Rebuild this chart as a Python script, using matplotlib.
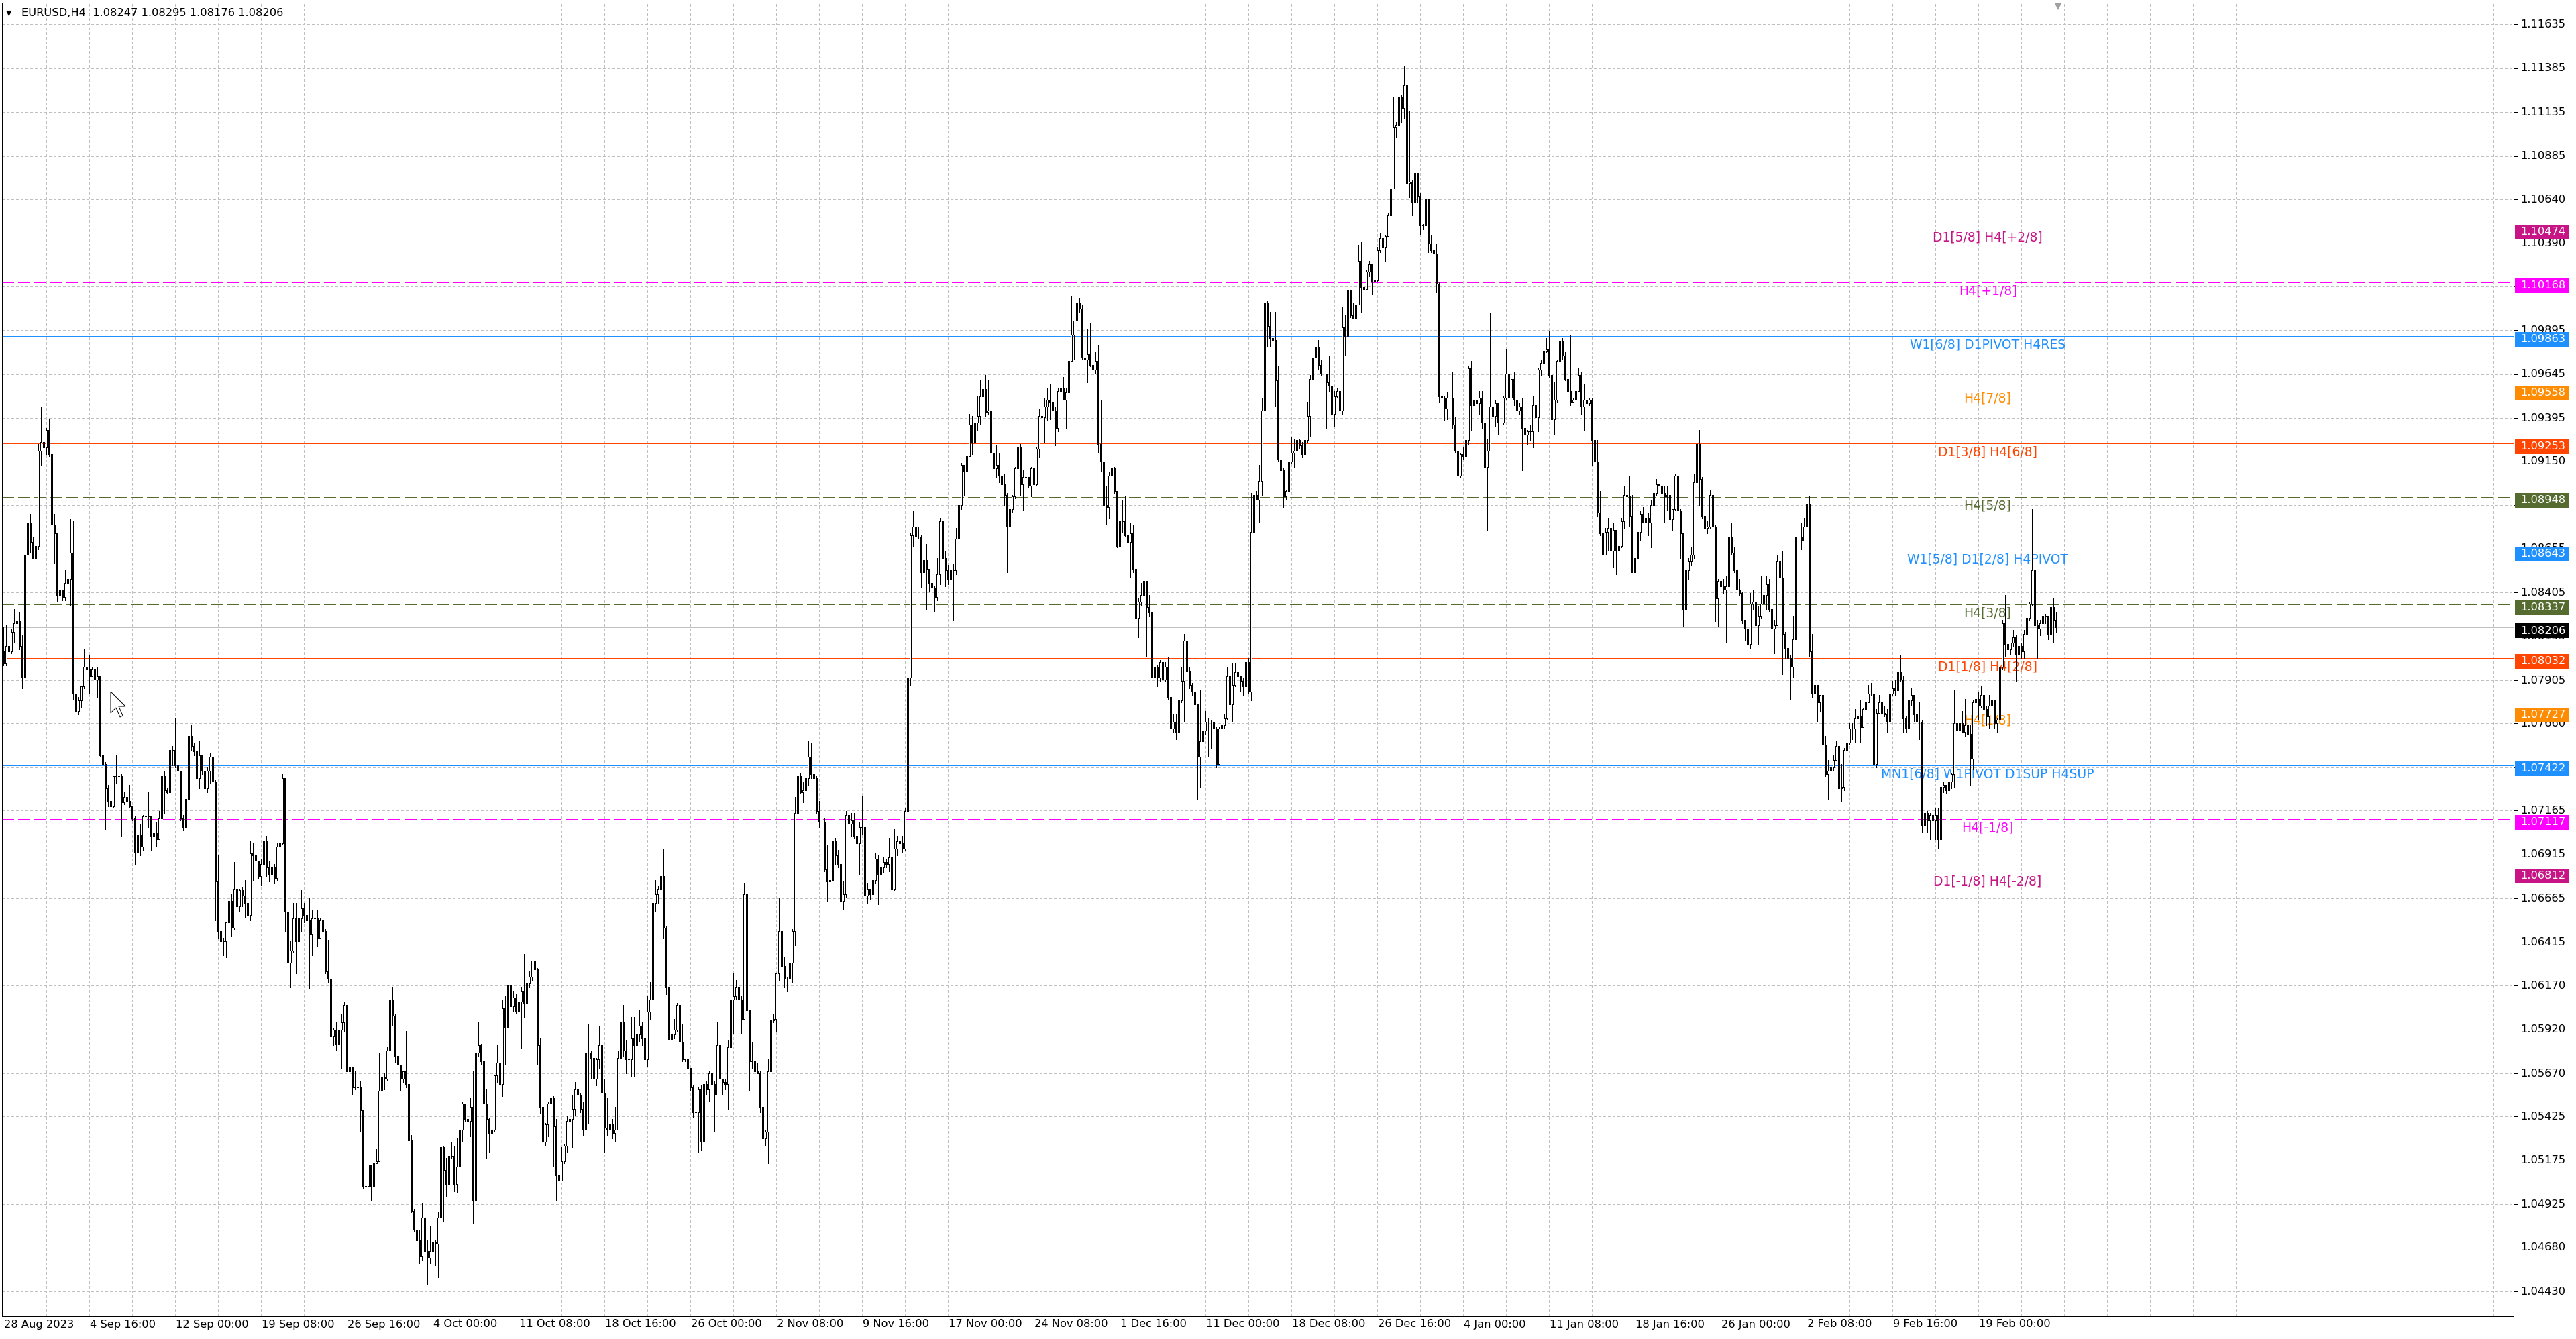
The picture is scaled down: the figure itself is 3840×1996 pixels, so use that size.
import matplotlib
matplotlib.use("Agg")
import matplotlib.pyplot as plt
import matplotlib.transforms as mtransforms
from matplotlib.collections import LineCollection
from matplotlib.patches import Rectangle, Polygon

plt.rcParams['font.family'] = ['DejaVu Sans']
plt.rcParams['lines.scale_dashes'] = False

# ---------------- data (prices in pips, 1 pip = 0.0001) ----------------
FIRST_OPEN = 10807
closes = [
10800,10810,10807,10818,10823,10824,10810,10792,10862,10880,
10869,10860,10867,10921,10926,10923,10933,10919,10879,10874,
10839,10842,10838,10846,10848,10863,10783,10773,10779,10787,
10798,10797,10793,10797,10791,10793,10748,10743,10729,10722,
10719,10736,10736,10736,10721,10724,10722,10719,10712,10693,
10703,10696,10713,10713,10713,10702,10704,10700,10712,10736,
10728,10727,10751,10751,10742,10739,10712,10707,10723,10759,
10753,10750,10735,10748,10739,10729,10739,10747,10733,10676,
10648,10642,10642,10653,10665,10650,10672,10662,10671,10668,
10664,10657,10692,10691,10688,10679,10686,10699,10684,10680,
10684,10678,10696,10698,10735,10659,10630,10637,10655,10642,
10655,10661,10657,10654,10646,10655,10655,10644,10654,10648,
10625,10621,10588,10592,10584,10592,10596,10606,10568,10571,
10559,10559,10559,10546,10503,10503,10515,10503,10516,10517,
10557,10565,10564,10580,10609,10600,10577,10572,10564,10568,
10561,10529,10489,10478,10472,10463,10485,10466,10462,10466,
10471,10470,10485,10525,10512,10504,10520,10520,10504,10514,
10535,10550,10541,10540,10548,10495,10579,10583,10574,10550,
10541,10533,10535,10566,10573,10561,10604,10593,10617,10605,
10610,10602,10608,10614,10607,10618,10622,10631,10626,10583,
10548,10528,10538,10550,10553,10537,10509,10506,10517,10526,
10540,10541,10547,10558,10555,10547,10535,10579,10579,10576,
10564,10575,10583,10556,10536,10535,10538,10533,10535,10576,
10596,10580,10575,10575,10587,10583,10589,10594,10587,10575,
10602,10609,10664,10669,10672,10679,10650,10616,10586,10589,
10592,10606,10585,10575,10575,10570,10559,10545,10545,10558,
10528,10561,10558,10567,10561,10555,10583,10564,10562,10561,
10582,10609,10611,10616,10609,10598,10669,10603,10574,10574,
10568,10567,10548,10530,10534,10568,10597,10598,10624,10648,
10628,10621,10621,10630,10648,10715,10736,10727,10728,10735,
10747,10737,10735,10716,10710,10710,10683,10676,10677,10699,
10691,10686,10665,10669,10714,10709,10711,10702,10698,10707,
10707,10668,10672,10669,10677,10689,10680,10684,10687,10686,
10690,10672,10695,10699,10698,10695,10716,10792,10873,10878,
10872,10872,10852,10859,10854,10846,10843,10838,10851,10881,
10860,10853,10848,10853,10853,10871,10890,10913,10909,10918,
10936,10926,10937,10941,10952,10956,10943,10944,10920,10911,
10913,10907,10902,10896,10878,10888,10895,10911,10923,10902,
10906,10906,10901,10911,10902,10922,10941,10940,10946,10950,
10949,10944,10934,10955,10957,10950,10954,10972,10987,10995,
11005,11002,10974,10973,10976,10970,10967,10972,10925,10915,
10890,10889,10907,10911,10898,10867,10881,10881,10873,10869,
10874,10854,10826,10835,10839,10847,10832,10829,10792,10798,
10792,10801,10791,10798,10781,10763,10767,10761,10779,10790,
10813,10796,10788,10784,10777,10747,10756,10762,10767,10767,
10767,10763,10743,10763,10765,10769,10793,10777,10788,10795,
10793,10790,10787,10801,10784,10875,10896,10893,10904,10944,
11005,10992,10985,10984,10961,10916,10910,10895,10898,10915,
10920,10921,10927,10924,10919,10927,10941,10962,10974,10980,
10970,10965,10965,10960,10958,10942,10952,10955,10944,10991,
10986,11012,10998,10996,11004,11029,11014,11013,11023,11027,
11017,11018,11035,11042,11037,11043,11055,11070,11105,11106,
11122,11116,11129,11073,11074,11062,11079,11066,11049,11049,
11064,11039,11035,11033,11016,10952,10951,10945,10951,10951,
10936,10921,10907,10919,10918,10927,10968,10947,10950,10948,
10951,10937,10912,10921,10946,10941,10948,10937,10937,10951,
10965,10951,10962,10950,10944,10946,10934,10930,10932,10932,
10947,10940,10967,10971,10978,10979,10964,10939,10950,10972,
10983,10975,10962,10955,10949,10950,10955,10964,10946,10950,
10948,10950,10927,10915,10886,10874,10862,10875,10877,10864,
10876,10864,10867,10881,10896,10895,10884,10852,10860,10875,
10885,10880,10883,10880,10890,10897,10902,10901,10897,10895,
10896,10882,10888,10907,10887,10874,10831,10853,10858,10862,
10903,10925,10905,10884,10877,10878,10896,10878,10837,10847,
10844,10842,10844,10872,10863,10853,10842,10840,10825,10820,
10811,10834,10835,10822,10827,10834,10839,10845,10831,10820,
10822,10858,10849,10817,10809,10803,10798,10814,10872,10872,
10870,10878,10891,10807,10783,10788,10778,10782,10754,10737,
10739,10741,10745,10753,10729,10730,10751,10755,10763,10763,
10769,10770,10764,10774,10778,10783,10783,10743,10772,10778,
10772,10771,10767,10783,10786,10785,10795,10791,10769,10763,
10779,10782,10771,10767,10767,10708,10715,10711,10714,10711,
10714,10700,10730,10731,10728,10733,10737,10766,10762,10766,
10761,10765,10760,10746,10778,10780,10776,10782,10774,10770,
10776,10779,10766,10768,10798,10823,10811,10808,10812,10815,
10805,10810,10807,10817,10826,10834,10853,10822,10820,10823,
10827,10827,10817,10832,10825,10820.6]

highs = [
10821,10822,10814,10820,10831,10838,10829,10816,10863,10891,
10885,10872,10868,10925,10946,10932,10934,10939,10925,10885,
10874,10843,10842,10853,10858,10882,10881,10789,10781,10787,
10808,10809,10805,10798,10796,10798,10793,10757,10744,10731,
10725,10736,10748,10748,10737,10727,10727,10731,10719,10713,
10710,10709,10714,10722,10727,10713,10744,10710,10716,10737,
10739,10729,10759,10753,10769,10743,10739,10714,10724,10765,
10765,10755,10753,10756,10748,10740,10741,10749,10752,10734,
10691,10651,10644,10653,10668,10669,10687,10676,10672,10673,
10677,10674,10699,10698,10697,10688,10689,10718,10702,10688,
10685,10686,10698,10705,10737,10735,10664,10642,10664,10664,
10673,10671,10664,10659,10667,10660,10671,10660,10655,10655,
10649,10643,10622,10593,10596,10599,10601,10608,10606,10574,
10570,10568,10573,10563,10546,10518,10515,10515,10524,10524,
10579,10566,10567,10582,10616,10616,10601,10579,10570,10568,
10591,10563,10532,10490,10482,10478,10493,10491,10472,10480,
10476,10472,10488,10532,10526,10519,10520,10528,10526,10530,
10539,10551,10547,10547,10553,10568,10600,10596,10584,10574,
10558,10542,10535,10566,10583,10580,10609,10611,10620,10618,
10614,10612,10628,10616,10635,10627,10625,10631,10639,10627,
10587,10549,10539,10551,10558,10554,10541,10512,10525,10527,
10543,10545,10555,10562,10561,10556,10551,10579,10595,10580,
10577,10576,10594,10587,10564,10553,10539,10541,10548,10580,
10616,10606,10586,10582,10599,10599,10601,10603,10596,10588,
10611,10619,10665,10677,10674,10686,10695,10651,10624,10593,
10598,10607,10606,10595,10575,10575,10569,10560,10553,10559,
10560,10561,10563,10568,10570,10563,10596,10583,10564,10564,
10586,10615,10624,10620,10616,10611,10675,10670,10603,10585,
10579,10573,10568,10549,10535,10575,10602,10601,10624,10667,
10648,10633,10622,10632,10649,10724,10746,10738,10733,10738,
10756,10755,10749,10736,10722,10711,10712,10697,10693,10705,
10701,10694,10688,10676,10716,10714,10715,10715,10704,10710,
10725,10705,10675,10672,10680,10692,10691,10687,10690,10689,
10701,10691,10706,10702,10702,10702,10718,10798,10874,10887,
10884,10878,10873,10886,10868,10854,10850,10844,10860,10883,
10895,10864,10856,10856,10857,10877,10894,10914,10911,10936,
10942,10941,10940,10952,10961,10965,10964,10961,10960,10923,
10924,10920,10920,10908,10897,10889,10896,10912,10931,10925,
10910,10908,10903,10912,10921,10923,10945,10948,10951,10957,
10959,10957,10946,10957,10962,10963,10957,10974,11009,10995,
11017,11008,11004,10994,10990,10994,10983,10977,10981,10950,
10922,10901,10909,10912,10912,10898,10885,10893,10895,10886,
10880,10879,10856,10837,10846,10848,10847,10839,10835,10804,
10799,10802,10802,10801,10804,10782,10771,10771,10784,10798,
10817,10814,10798,10789,10790,10777,10785,10768,10773,10769,
10768,10778,10764,10764,10770,10771,10798,10828,10800,10800,
10794,10793,10792,10808,10803,10897,10898,10898,10913,10951,
11009,11006,11000,11004,11000,10969,10918,10911,10899,10916,
10929,10928,10931,10928,10926,10929,10949,10964,10987,10981,
10984,10973,10967,10965,10975,10959,10955,10957,10957,11003,
10998,11014,11009,11005,11012,11038,11040,11020,11024,11029,
11027,11021,11037,11045,11044,11044,11056,11073,11122,11108,
11122,11123,11140,11132,11114,11075,11080,11079,11068,11050,
11081,11064,11044,11037,11039,11017,10968,10952,10954,10962,
10966,10940,10922,10920,10923,10929,10969,10972,10965,10955,
10955,10955,10938,10928,10999,10960,10950,10948,10938,10952,
10979,10966,10962,10966,10962,10948,10951,10939,10933,10936,
10952,10948,10968,10973,10980,10985,10989,10996,10960,10973,
10985,10985,10977,10970,10987,10951,10957,10968,10966,10959,
10951,10951,10951,10928,10927,10898,10882,10877,10883,10884,
10880,10876,10871,10883,10901,10903,10907,10896,10870,10885,
10887,10889,10892,10886,10893,10904,10905,10902,10904,10901,
10901,10898,10888,10908,10916,10888,10874,10855,10860,10866,
10908,10927,10933,10906,10886,10881,10899,10902,10879,10848,
10848,10848,10850,10886,10880,10866,10848,10848,10841,10825,
10820,10840,10842,10835,10833,10850,10857,10850,10848,10832,
10825,10862,10887,10864,10818,10822,10805,10827,10875,10875,
10880,10883,10898,10895,10817,10797,10786,10782,10786,10759,
10745,10745,10748,10756,10763,10743,10752,10760,10766,10766,
10774,10784,10779,10775,10779,10788,10789,10783,10774,10782,
10778,10776,10774,10795,10790,10791,10800,10805,10793,10770,
10780,10786,10782,10772,10778,10768,10716,10716,10715,10715,
10718,10718,10734,10733,10731,10734,10738,10785,10774,10774,
10773,10780,10768,10765,10779,10787,10784,10787,10786,10776,
10782,10783,10779,10769,10800,10825,10839,10812,10812,10819,
10816,10810,10812,10819,10827,10835,10888,10859,10825,10825,
10831,10828,10825,10839,10837,10829.5]

lows = [
10799,10799,10800,10806,10812,10822,10808,10786,10782,10862,
10863,10860,10855,10865,10913,10920,10919,10918,10877,10857,
10835,10836,10836,10836,10828,10833,10780,10771,10771,10775,
10786,10795,10783,10793,10788,10781,10747,10717,10706,10719,
10713,10718,10732,10730,10702,10720,10719,10718,10711,10686,
10690,10691,10694,10710,10707,10694,10698,10696,10707,10712,
10715,10726,10727,10742,10741,10737,10711,10705,10706,10722,
10751,10748,10731,10729,10737,10727,10727,10732,10732,10654,
10644,10631,10634,10633,10648,10645,10649,10656,10659,10662,
10656,10656,10654,10677,10686,10678,10674,10684,10679,10676,
10675,10675,10677,10695,10697,10648,10629,10616,10636,10624,
10638,10648,10653,10640,10615,10634,10649,10639,10648,10643,
10624,10619,10575,10583,10580,10578,10570,10591,10567,10562,
10555,10558,10554,10534,10502,10488,10503,10495,10491,10516,
10517,10557,10558,10563,10574,10594,10573,10567,10557,10562,
10559,10525,10488,10477,10464,10459,10461,10462,10447,10459,
10461,10458,10451,10484,10483,10497,10502,10519,10500,10499,
10507,10528,10540,10537,10531,10482,10488,10577,10572,10548,
10519,10522,10533,10534,10562,10560,10554,10572,10584,10592,
10602,10601,10593,10581,10599,10585,10616,10620,10619,10572,
10544,10526,10526,10531,10546,10514,10495,10501,10508,10516,
10522,10525,10525,10543,10553,10545,10532,10535,10539,10564,
10560,10560,10570,10549,10522,10532,10532,10530,10528,10535,
10556,10577,10567,10569,10565,10565,10571,10585,10583,10572,
10571,10598,10591,10659,10664,10671,10644,10612,10583,10583,
10587,10591,10578,10574,10574,10565,10557,10542,10532,10522,
10523,10527,10555,10551,10552,10534,10555,10563,10555,10558,
10547,10582,10590,10609,10607,10590,10598,10603,10557,10570,
10567,10567,10545,10521,10526,10516,10567,10596,10591,10620,
10610,10616,10614,10620,10619,10640,10693,10726,10721,10725,
10731,10735,10730,10715,10707,10705,10682,10665,10664,10676,
10686,10684,10659,10660,10667,10700,10702,10701,10693,10680,
10703,10661,10664,10666,10656,10675,10663,10674,10681,10684,
10682,10665,10671,10691,10696,10693,10694,10714,10788,10867,
10869,10871,10843,10840,10831,10841,10841,10830,10836,10845,
10851,10844,10845,10849,10825,10851,10869,10888,10896,10908,
10918,10919,10925,10933,10936,10952,10941,10942,10919,10900,
10906,10903,10883,10890,10852,10877,10886,10894,10910,10896,
10887,10903,10900,10895,10901,10901,10917,10940,10926,10938,
10939,10943,10924,10932,10939,10950,10934,10945,10972,10973,
10991,11000,10973,10969,10960,10969,10966,10965,10920,10909,
10889,10879,10883,10895,10897,10866,10828,10875,10872,10868,
10849,10852,10804,10815,10833,10838,10804,10827,10789,10778,
10787,10790,10776,10790,10780,10759,10761,10757,10755,10778,
10767,10795,10786,10782,10772,10723,10730,10757,10760,10747,
10752,10763,10741,10743,10761,10763,10768,10776,10767,10787,
10787,10784,10782,10773,10783,10779,10872,10893,10880,10896,
10936,10980,10980,10984,10946,10915,10901,10889,10893,10896,
10914,10912,10913,10922,10917,10915,10926,10929,10960,10969,
10967,10964,10951,10934,10955,10929,10935,10951,10935,10942,
10975,10979,10997,10996,10996,11004,11000,11005,11013,11020,
11010,11009,11017,11034,11031,11029,11043,11053,11070,11099,
11099,11108,11110,11072,11065,11055,11060,11062,11044,11047,
11046,11034,11034,11032,11011,10949,10941,10938,10939,10950,
10934,10920,10898,10906,10916,10917,10925,10933,10938,10943,
10942,10934,10902,10876,10921,10935,10935,10930,10922,10936,
10950,10949,10953,10947,10942,10942,10910,10919,10925,10927,
10923,10940,10932,10964,10967,10977,10963,10935,10930,10949,
10972,10973,10961,10936,10947,10949,10941,10955,10942,10933,
10940,10947,10913,10912,10884,10873,10862,10862,10864,10859,
10855,10851,10844,10866,10877,10890,10878,10852,10846,10855,
10870,10880,10874,10873,10866,10889,10896,10901,10890,10880,
10887,10881,10876,10887,10884,10860,10821,10830,10848,10856,
10860,10887,10890,10883,10870,10874,10877,10866,10824,10821,
10838,10840,10812,10843,10862,10852,10841,10839,10823,10813,
10795,10809,10831,10815,10811,10826,10832,10831,10830,10816,
10806,10822,10848,10794,10803,10802,10780,10792,10805,10866,
10865,10871,10874,10804,10781,10781,10767,10773,10752,10736,
10723,10736,10739,10745,10726,10722,10728,10749,10754,10757,
10755,10769,10755,10764,10769,10778,10782,10741,10741,10773,
10770,10770,10761,10766,10782,10782,10778,10790,10761,10761,
10756,10776,10767,10757,10757,10704,10700,10704,10700,10708,
10700,10695,10697,10727,10726,10727,10729,10730,10761,10760,
10761,10759,10759,10731,10740,10776,10768,10775,10763,10765,
10763,10775,10763,10761,10766,10797,10804,10804,10805,10810,
10790,10793,10803,10803,10817,10825,10833,10803,10803,10816,
10816,10823,10814,10814,10812,10817.6]

time_labels = ["28 Aug 2023", "4 Sep 16:00", "12 Sep 00:00", "19 Sep 08:00", "26 Sep 16:00",
               "4 Oct 00:00", "11 Oct 08:00", "18 Oct 16:00", "26 Oct 00:00", "2 Nov 08:00",
               "9 Nov 16:00", "17 Nov 00:00", "24 Nov 08:00", "1 Dec 16:00", "11 Dec 00:00",
               "18 Dec 08:00", "26 Dec 16:00", "4 Jan 00:00", "11 Jan 08:00", "18 Jan 16:00",
               "26 Jan 00:00", "2 Feb 08:00", "9 Feb 16:00", "19 Feb 00:00"]
BARS_PER_LABEL = 32
BARS_PER_VGRID = 16

price_ticks = [1.11635, 1.11385, 1.11135, 1.10885, 1.10640, 1.10390, 1.10145, 1.09895, 1.09645,
               1.09395, 1.09150, 1.08900, 1.08655, 1.08405, 1.08155, 1.07905, 1.07660, 1.07410,
               1.07165, 1.06915, 1.06665, 1.06415, 1.06170, 1.05920, 1.05670, 1.05425, 1.05175,
               1.04925, 1.04680, 1.04430]

level_prices = [1.10474, 1.10168, 1.09863, 1.09558, 1.09253, 1.08948, 1.08643,
                1.08337, 1.08032, 1.07727, 1.07422, 1.07117, 1.06812]
level_names = ["D1[5/8] H4[+2/8]", "H4[+1/8]", "W1[6/8] D1PIVOT H4RES", "H4[7/8]",
               "D1[3/8] H4[6/8]", "H4[5/8]", "W1[5/8] D1[2/8] H4PIVOT", "H4[3/8]",
               "D1[1/8] H4[2/8]", "H4[1/8]", "MN1[6/8] W1PIVOT D1SUP H4SUP", "H4[-1/8]",
               "D1[-1/8] H4[-2/8]"]
level_colors = ["#C71585", "#FF00FF", "#1E90FF", "#FF8C00", "#FF4500", "#556B2F", "#1E90FF",
                "#556B2F", "#FF4500", "#FF8C00", "#1E90FF", "#FF00FF", "#C71585"]
level_dashed = [False, True, False, True, False, True, False, True, False, True, False, True, False]
level_width_px = [1, 1, 1, 1, 1, 1, 1, 1, 1, 1, 2, 1, 1]
current_price = 1.08206
header_text = "EURUSD,H4  1.08247 1.08295 1.08176 1.08206"

# ---------------- figure geometry ----------------
W, H, DPI = 3840, 1996, 100
PX = 72.0 / DPI
fig = plt.figure(figsize=(W / DPI, H / DPI), dpi=DPI, facecolor='white')
L, R, T, B = 3, 3747, 4, 1962
ax = fig.add_axes([L / W, (H - B) / H, (R - L) / W, (B - T) / H])
ax.set_facecolor('white')

BAR_X0, BAR_DX = 5, 4
ax.set_xlim((L - BAR_X0) / BAR_DX, (R - BAR_X0) / BAR_DX)
PY0, PP0, SCALE = 340.6, 1.10474, 26218.0
ax.set_ylim(PP0 - (B - PY0) / SCALE, PP0 + (PY0 - T) / SCALE)
ax.set_xticks([])
ax.set_yticks([])
for s in ax.spines.values():
    s.set_color('black')
    s.set_linewidth(PX)

def fx(px):
    return (px - L) / (R - L)

def fy(py):
    return (B - py) / (B - T)

blend_y = mtransforms.blended_transform_factory(ax.transAxes, ax.transData)
blend_x = mtransforms.blended_transform_factory(ax.transData, ax.transAxes)

# ---------------- grid ----------------
grid_kw = dict(color='#C0C0C0', lw=PX, dashes=(3 * PX, 3 * PX), zorder=0.5, antialiased=False)
for p in price_ticks:
    ax.axhline(p, **grid_kw)
xmax_bar = (R - BAR_X0) / BAR_DX
k = BARS_PER_VGRID
while k < xmax_bar:
    ax.axvline(k, **grid_kw)
    k += BARS_PER_VGRID

# ---------------- level lines + labels ----------------
LABEL_BAR = 739.5
for p, name, col, dashed, wpx in zip(level_prices, level_names, level_colors, level_dashed, level_width_px):
    kw = dict(color=col, lw=wpx * PX, zorder=1, antialiased=False)
    if dashed:
        kw['dashes'] = (18 * PX, 6 * PX)
    ax.axhline(p, **kw)
    ax.annotate(name, xy=(LABEL_BAR, p), xytext=(0, -13 * PX), textcoords='offset points',
                ha='center', va='center', fontsize=13.5, color=col, zorder=2)
ax.axhline(current_price, color='#C0C0C0', lw=PX, zorder=1.2, antialiased=False)

# ---------------- candles ----------------
n = min(len(closes), len(highs), len(lows))
opens = [FIRST_OPEN] + list(closes[:n - 1])
segs = []
for i in range(n):
    o, c = opens[i], closes[i]
    hi = max(highs[i], o, c) / 1e4
    lo = min(lows[i], o, c) / 1e4
    segs.append([(i, lo), (i, hi)])
ax.add_collection(LineCollection(segs, colors='black', linewidths=PX, antialiaseds=False, zorder=3))
for i in range(n):
    o, c = opens[i] / 1e4, closes[i] / 1e4
    fill = 'white' if c > o else 'black'
    ax.add_patch(Rectangle((i - 0.25, min(o, c)), 0.5, abs(c - o), facecolor=fill,
                           edgecolor='black', lw=PX, antialiased=False, zorder=4))

# ---------------- right price scale ----------------
for p in price_ticks:
    ax.plot([fx(R), fx(R + 5)], [p, p], transform=blend_y, color='black', lw=PX,
            clip_on=False, zorder=3, antialiased=False)
    ax.text(fx(3757), p, f"{p:.5f}", transform=blend_y, ha='left', va='center',
            fontsize=11.7, color='black', clip_on=False, zorder=3)

box_h = 22 / SCALE
box_shift = 5 / SCALE   # price boxes sit a few pixels below their line
box_prices = level_prices + [current_price]
box_colors = level_colors + ['black']
for p, col in zip(box_prices, box_colors):
    pc = p - box_shift
    ax.add_patch(Rectangle((fx(3749), pc - box_h / 2), fx(3829) - fx(3749), box_h, transform=blend_y,
                           facecolor=col, edgecolor='none', clip_on=False, zorder=6))
    ax.text(fx(3757), pc, f"{p:.5f}", transform=blend_y, ha='left', va='center',
            fontsize=11.7, color='white', clip_on=False, zorder=7)

# ---------------- time axis ----------------
for k, lab in enumerate(time_labels):
    i = k * BARS_PER_LABEL
    ax.text(i + 0.2, fy(1974), lab, transform=blend_x, ha='left', va='center',
            fontsize=11.7, color='black', clip_on=False)

# ---------------- header & small marks ----------------
fig.text(9 / W, 1 - 20 / H, "\u25BC", fontsize=8, va='center', ha='left', color='black')
fig.text(32 / W, 1 - 20 / H, header_text, fontsize=11.7, va='center', ha='left', color='black')
ax.plot([765.75], [ax.get_ylim()[1] - 6 / SCALE], marker='v', markersize=7, color='#A0A0A0',
        markeredgewidth=0, transform=ax.transData, clip_on=False, zorder=8)

# mouse cursor
cx, cy = 165, H - 1031
shape = [(0, 0), (0, -32), (8, -24), (14, -38), (18, -36), (12, -22), (22, -22)]
cursor = Polygon([(cx + dx, cy + dy) for dx, dy in shape], closed=True, facecolor='white',
                 edgecolor='black', lw=PX, transform=mtransforms.IdentityTransform(), zorder=20)
fig.add_artist(cursor)

fig.savefig("out.png", dpi=DPI, facecolor='white')
